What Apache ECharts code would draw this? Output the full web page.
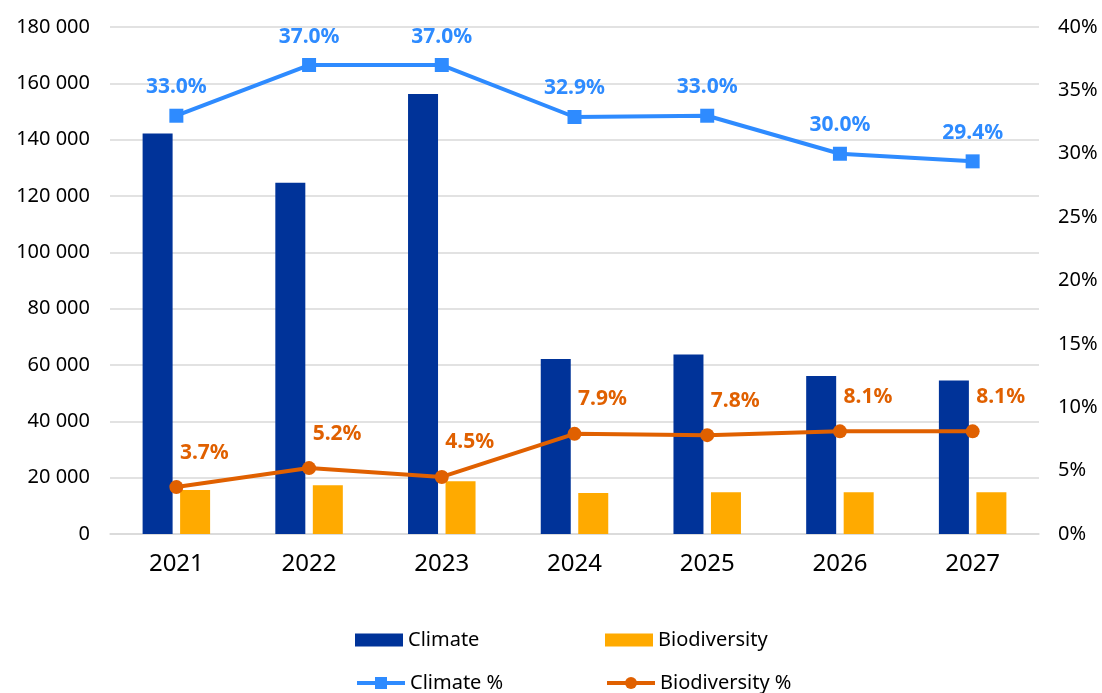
<!DOCTYPE html>
<html lang="en">
<head>
    <meta charset="utf-8">
    <title>Climate and biodiversity</title>
    <script src="https://cdn.jsdelivr.net/npm/echarts@6/dist/echarts.min.js"></script>
    <style>
        html, body { margin: 0; padding: 0; background: #fff; }
        #box { width: 1102px; height: 693px; }
    </style>
</head>
<body>
<div id="box"></div>
<script>
    // data
    var years = ['2021', '2022', '2023', '2024', '2025', '2026', '2027'];
    var climate = [142200, 124700, 156200, 62100, 63700, 56100, 54500];
    var biodiversity = [15600, 17300, 18700, 14600, 14800, 14800, 14800];
    var climatePct = [33.0, 37.0, 37.0, 32.9, 33.0, 30.0, 29.4];
    var biodiversityPct = [3.7, 5.2, 4.5, 7.9, 7.8, 8.1, 8.1];

    var font = 'Noto Sans';
    var blue = '#003399', yellow = '#FFAA00', lightBlue = '#2E8BFF', orange = '#E06000';

    function spaced(v) {
        return String(v).replace(/\B(?=(\d{3})+(?!\d))/g, ' ');
    }

    // one legend per item so the two columns line up like the original
    function legendAt(name, left, top, isLine) {
        return {
            data: [name],
            left: left,
            top: top,
            itemWidth: 48,
            itemHeight: isLine ? 15 : 13,
            icon: isLine ? undefined : 'rect',
            padding: 0,
            lineStyle: { width: 4 },
            textStyle: { fontFamily: font, fontSize: 20, color: '#000' }
        };
    }

    var myChart = echarts.init(document.getElementById('box'));

    var option = {
        animation: false,
        textStyle: { fontFamily: font },
        grid: { left: 110, right: 63, top: 27, bottom: 159 },
        legend: [
            legendAt('Climate', 355, 630, false),
            legendAt('Biodiversity', 605, 630, false),
            legendAt('Climate %', 355, 673, true),
            legendAt('Biodiversity %', 605, 673, true)
        ],
        xAxis: {
            type: 'category',
            data: years,
            axisTick: { show: false },
            axisLine: { lineStyle: { color: '#d9d9d9', width: 1.5 } },
            axisLabel: { fontFamily: font, fontSize: 24, color: '#000', margin: 18 }
        },
        yAxis: [
            {
                type: 'value',
                min: 0,
                max: 180000,
                interval: 20000,
                axisLine: { show: false },
                axisTick: { show: false },
                splitLine: { lineStyle: { color: '#d9d9d9', width: 1.5 } },
                axisLabel: {
                    fontFamily: font, fontSize: 20, color: '#000', margin: 20,
                    formatter: spaced
                }
            },
            {
                type: 'value',
                min: 0,
                max: 40,
                interval: 5,
                axisLine: { show: false },
                axisTick: { show: false },
                splitLine: { show: false },
                axisLabel: {
                    fontFamily: font, fontSize: 20, color: '#000', margin: 19,
                    formatter: '{value}%'
                }
            }
        ],
        series: [
            {
                name: 'Climate',
                type: 'bar',
                data: climate,
                barWidth: 30,
                barGap: '25%',
                itemStyle: { color: blue }
            },
            {
                name: 'Biodiversity',
                type: 'bar',
                data: biodiversity,
                barWidth: 30,
                itemStyle: { color: yellow }
            },
            {
                name: 'Climate %',
                type: 'line',
                yAxisIndex: 1,
                data: climatePct,
                symbol: 'rect',
                symbolSize: 14,
                lineStyle: { color: lightBlue, width: 4 },
                itemStyle: { color: lightBlue },
                label: {
                    show: true,
                    position: 'top',
                    distance: 11,
                    fontFamily: font,
                    fontSize: 21,
                    fontWeight: 'bold',
                    color: lightBlue,
                    formatter: function (p) { return p.value.toFixed(1) + '%'; }
                }
            },
            {
                name: 'Biodiversity %',
                type: 'line',
                yAxisIndex: 1,
                data: biodiversityPct,
                symbol: 'circle',
                symbolSize: 14,
                lineStyle: { color: orange, width: 4 },
                itemStyle: { color: orange },
                label: {
                    show: true,
                    position: 'top',
                    distance: 17,
                    offset: [28, 0],
                    fontFamily: font,
                    fontSize: 21,
                    fontWeight: 'bold',
                    color: orange,
                    formatter: function (p) { return p.value.toFixed(1) + '%'; }
                }
            }
        ]
    };

    myChart.setOption(option, true);
</script>
</body>
</html>
